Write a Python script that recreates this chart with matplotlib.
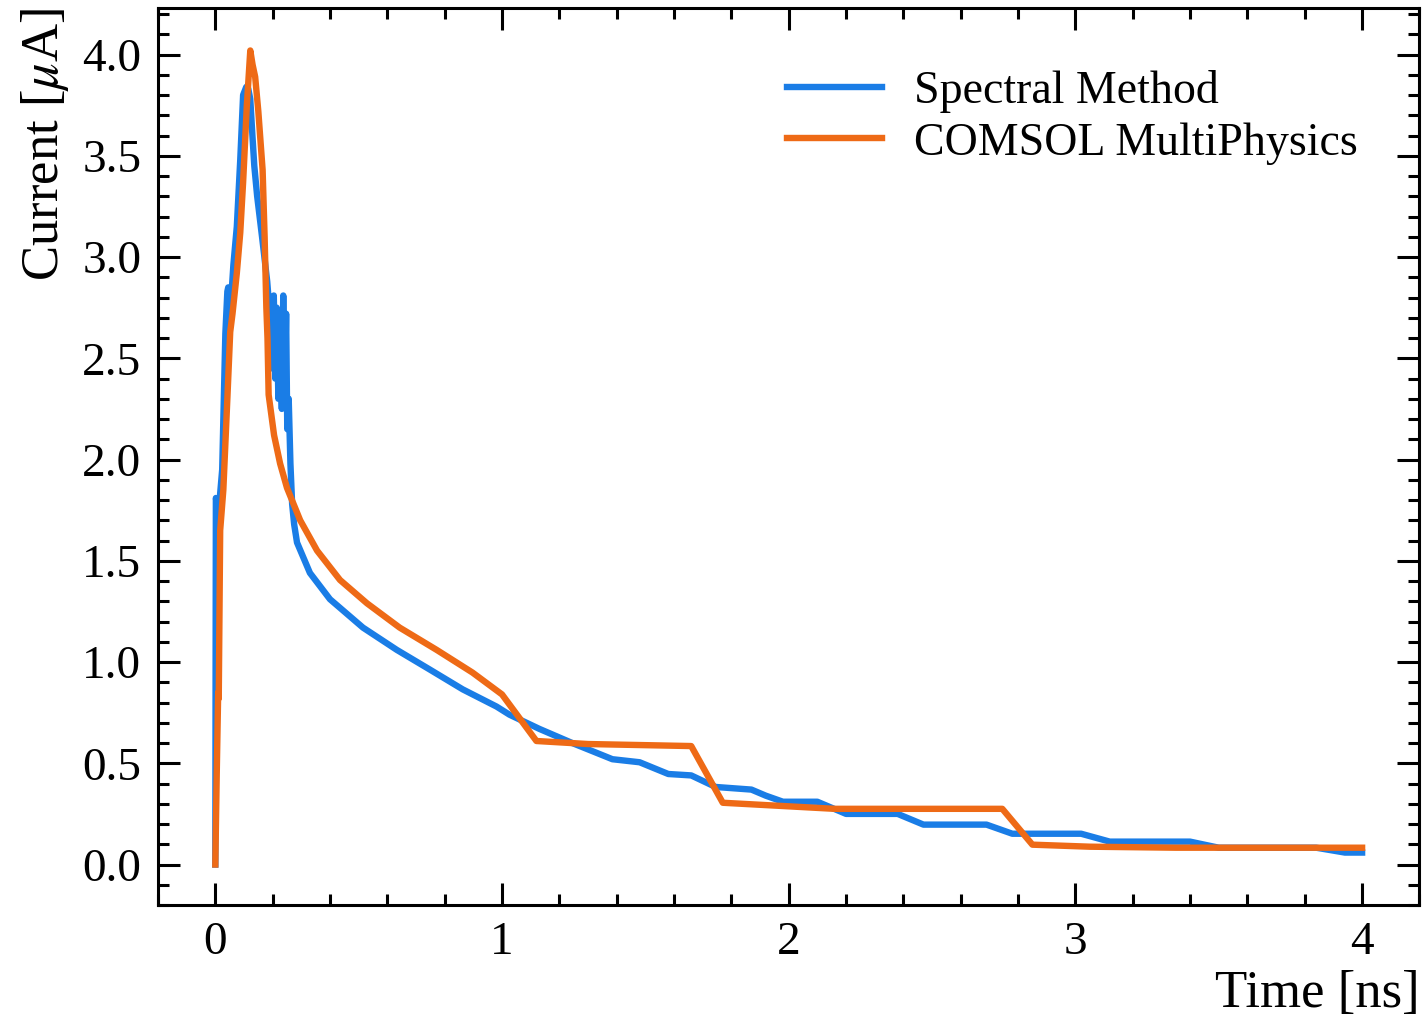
import matplotlib
matplotlib.use("Agg")
import matplotlib.pyplot as plt

# Spectral Method (time in ns, current in uA)
spectral_t = [0.0, 0.002, 0.006, 0.009, 0.015, 0.024, 0.035, 0.042, 0.045, 0.046,
              0.052, 0.063, 0.075, 0.087, 0.097, 0.108, 0.115, 0.122, 0.129, 0.136,
              0.146, 0.163, 0.181, 0.191, 0.198, 0.204, 0.209, 0.214, 0.220, 0.226,
              0.232, 0.237, 0.242, 0.247, 0.251, 0.256, 0.262, 0.268, 0.275, 0.285,
              0.33, 0.40, 0.515, 0.633, 0.748, 0.863, 0.981, 1.026, 1.13, 1.245,
              1.385, 1.48, 1.58, 1.66, 1.745, 1.87, 1.92, 1.98, 2.1, 2.2,
              2.38, 2.47, 2.69, 2.78, 3.02, 3.12, 3.40, 3.5, 3.84, 3.94, 4.0]
spectral_i = [0.0, 1.81, 1.78, 1.70, 1.80, 1.95, 2.62, 2.83, 2.85, 2.55,
              2.72, 2.96, 3.15, 3.48, 3.80, 3.84, 3.83, 3.78, 3.61, 3.45,
              3.30, 3.10, 2.88, 2.70, 2.45, 2.81, 2.40, 2.75, 2.30, 2.62,
              2.25, 2.81, 2.30, 2.72, 2.15, 2.30, 1.98, 1.78, 1.68, 1.59,
              1.44, 1.31, 1.17, 1.06, 0.963, 0.865, 0.78, 0.74, 0.67, 0.60,
              0.52, 0.505, 0.447, 0.44, 0.383, 0.37, 0.34, 0.31, 0.31, 0.25,
              0.25, 0.197, 0.197, 0.152, 0.152, 0.113, 0.113, 0.083, 0.083, 0.059, 0.059]

# COMSOL MultiPhysics
comsol_t = [0.0, 0.005, 0.010, 0.012, 0.017, 0.028, 0.042, 0.052, 0.060, 0.075,
            0.087, 0.097, 0.110, 0.122, 0.130, 0.139, 0.150, 0.165, 0.172, 0.178,
            0.182, 0.186, 0.205, 0.226, 0.250, 0.296, 0.355, 0.435, 0.529, 0.643,
            0.772, 0.897, 1.0, 1.12, 1.3, 1.66, 1.77, 2.03, 2.16, 2.745,
            2.85, 3.05, 3.35, 4.0]
comsol_i = [0.0, 0.45, 0.85, 0.82, 1.65, 1.85, 2.30, 2.63, 2.72, 2.92,
            3.12, 3.37, 3.75, 4.02, 3.95, 3.89, 3.72, 3.43, 3.10, 2.75,
            2.60, 2.32, 2.12, 1.98, 1.86, 1.70, 1.55, 1.405, 1.29, 1.17,
            1.06, 0.948, 0.84, 0.61, 0.595, 0.585, 0.305, 0.285, 0.275, 0.275,
            0.098, 0.088, 0.083, 0.083]

plt.rcParams["font.family"] = ["Liberation Serif", "DejaVu Serif"]
plt.rcParams["mathtext.fontset"] = "stix"

fig = plt.figure(figsize=(7.135, 5.105), dpi=200)
ax = fig.add_axes([0.1107, 0.1136, 0.884, 0.8786])

ax.plot(spectral_t, spectral_i, color="#1a7de6", linewidth=2.3, label="Spectral Method")
ax.plot(comsol_t, comsol_i, color="#ee6a16", linewidth=2.3, label="COMSOL MultiPhysics")

ax.set_xlim(-0.2, 4.2)
ax.set_ylim(-0.2, 4.23)
ax.set_xticks([0, 1, 2, 3, 4])
ax.set_yticks([0.0, 0.5, 1.0, 1.5, 2.0, 2.5, 3.0, 3.5, 4.0])
ax.set_yticklabels(["0.0", "0.5", "1.0", "1.5", "2.0", "2.5", "3.0", "3.5", "4.0"])
ax.xaxis.set_minor_locator(matplotlib.ticker.MultipleLocator(0.2))
ax.yaxis.set_minor_locator(matplotlib.ticker.MultipleLocator(0.1))
ax.tick_params(which="both", direction="in", top=True, right=True, width=1.1,
               labelsize=17)
ax.tick_params(which="major", length=8, pad=6)
ax.tick_params(which="minor", length=4)
for s in ax.spines.values():
    s.set_linewidth(1.1)

ax.set_xlabel("Time [ns]", fontsize=19, loc="right", labelpad=2)
ax.set_ylabel("Current [$\\mu$A]", fontsize=19, loc="top", labelpad=4)

ax.legend(loc="upper right", frameon=False, fontsize=16.5, handlelength=2.07,
          handletextpad=0.7, borderaxespad=0.95, labelspacing=0.2)

fig.savefig("out.png", dpi=200)
